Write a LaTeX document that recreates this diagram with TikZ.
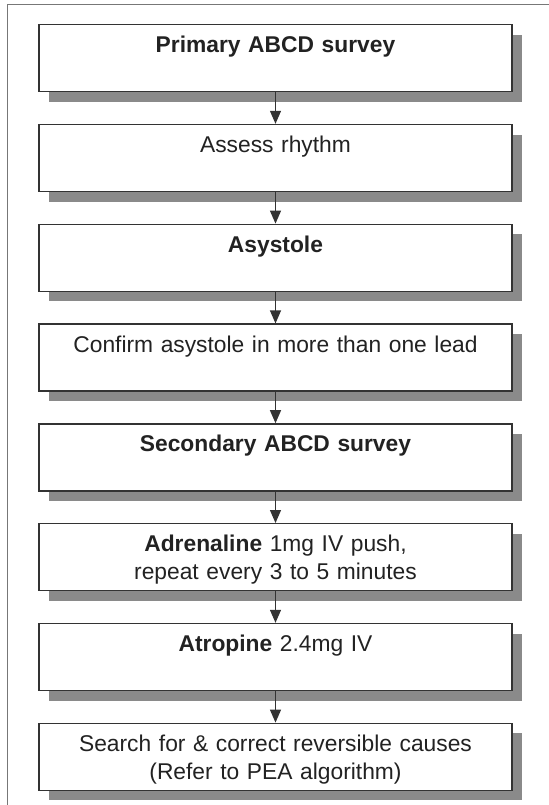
\documentclass[tikz,border=0pt]{standalone}
\usepackage{fontspec}
\setmainfont{Liberation Sans}
\usetikzlibrary{arrows.meta,positioning,shadows}
\definecolor{inkgray}{HTML}{222222}
\definecolor{edgegray}{HTML}{333333}
\definecolor{shadegray}{HTML}{8A8A8A}
\definecolor{framegray}{HTML}{777777}

\begin{document}
\begin{tikzpicture}[
  node distance=15.7pt,
  box/.style={draw=edgegray, line width=0.7pt, fill=white,
              text width=228.5pt, align=center, inner xsep=4pt, inner ysep=3pt,
              text height=11pt, text depth=16.5pt, text=inkgray,
              font=\fontsize{11.4}{14}\selectfont,
              drop shadow={shadow xshift=5pt, shadow yshift=-5pt,
                           fill=shadegray, opacity=1}},
  arr/.style={-{Triangle[length=6.5pt, width=5.5pt]}, line width=0.6pt, edgegray},
  frame/.style={draw=framegray, line width=0.5pt}
]
\useasboundingbox (0,0) rectangle (274pt,-402.5pt);
\draw[frame] (3.5pt,-2pt) rectangle (290pt,-420pt);

\node[box, anchor=north] (primary) at (137.75pt,-12pt) {\textbf{Primary ABCD survey}};
\node[box, below=of primary] (rhythm) {Assess rhythm};
\node[box, below=of rhythm] (asys) {\textbf{Asystole}};
\node[box, below=of asys] (confirm) {Confirm asystole in more than one lead};
\node[box, below=of confirm] (secondary) {\textbf{Secondary ABCD survey}};
\node[box, below=of secondary] (adren) {\textbf{Adrenaline} 1mg IV push,\\ repeat every 3 to 5 minutes};
\node[box, below=of adren] (atrop) {\textbf{Atropine} 2.4mg IV};
\node[box, below=of atrop] (causes) {Search for \& correct reversible causes\\ (Refer to PEA algorithm)};

\draw[arr] (primary) -- (rhythm);
\draw[arr] (rhythm) -- (asys);
\draw[arr] (asys) -- (confirm);
\draw[arr] (confirm) -- (secondary);
\draw[arr] (secondary) -- (adren);
\draw[arr] (adren) -- (atrop);
\draw[arr] (atrop) -- (causes);
\end{tikzpicture}
\end{document}
